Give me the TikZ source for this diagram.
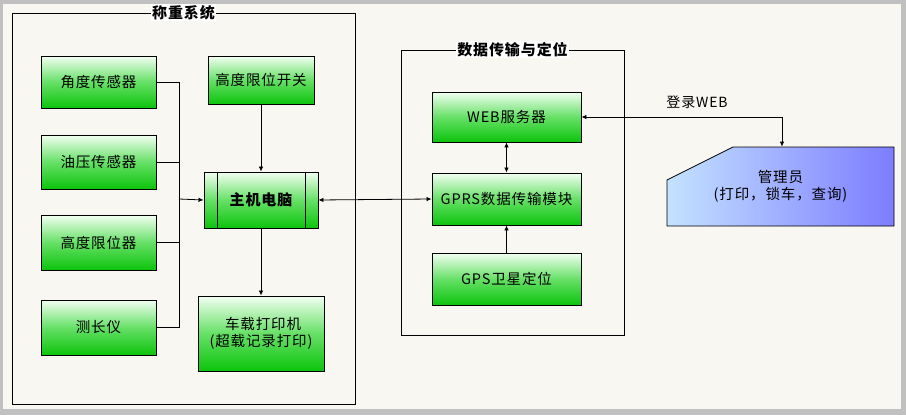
\documentclass[tikz,border=0pt]{standalone}
\usepackage{fontspec}
\setmainfont{Noto Sans CJK SC}[LetterSpace=6]
\usetikzlibrary{arrows.meta,calc}
\definecolor{paper}{HTML}{F9F7F1}
\definecolor{rim}{HTML}{C0C0C0}
\definecolor{gtop}{HTML}{F2FFF2}
\definecolor{gmid}{HTML}{66E066}
\definecolor{gbot}{HTML}{0DC40D}
\definecolor{btop}{HTML}{C4E2FF}
\definecolor{bbot}{HTML}{7C7CFF}
\begin{document}
\begin{tikzpicture}[x=1pt,y=-1pt, thick,
  box/.style={draw, line width=0.9pt, top color=gtop, bottom color=gbot, middle color=gmid,
    align=center, inner sep=0pt, font=\fontsize{14.5}{17}\selectfont},
  frame/.style={draw, line width=0.8pt, inner sep=0pt},
  title/.style={fill=white, inner sep=1pt, font=\fontsize{15}{18}\bfseries\selectfont},
  >={Latex[length=5pt,width=4.5pt]}]
\useasboundingbox (0,0) rectangle (906,415);
\fill[rim] (0,0) rectangle (906,415);
\fill[paper] (3,4) rectangle (901,409);
% frames
\node[frame, minimum width=343, minimum height=391] (czxt) at (183.5,208.5) {};
\node[title] at (czxt.north) {称重系统};
\node[frame, minimum width=223, minimum height=285] (sjcs) at (512.5,192.5) {};
\node[title] at (sjcs.north) {数据传输与定位};
% weighing system
\node[box, minimum width=115, minimum height=52] (jd) at (98.5,82) {角度传感器};
\node[box, minimum width=115, minimum height=54] (yy) at (98.5,162) {油压传感器};
\node[box, minimum width=115, minimum height=55] (gd) at (98.5,242.5) {高度限位器};
\node[box, minimum width=115, minimum height=55] (cc) at (98.5,327.5) {测长仪};
\node[box, minimum width=106, minimum height=48] (kg) at (261,80) {高度限位开关};
\node[box, minimum width=114, minimum height=56, font=\fontsize{15}{18}\bfseries\selectfont] (zj) at (261,200) {主机电脑};
\draw[line width=0.8pt] ([xshift=14]zj.north west) -- ([xshift=14]zj.south west);
\draw[line width=0.8pt] ([xshift=-13]zj.north east) -- ([xshift=-13]zj.south east);
\node[box, minimum width=126, minimum height=75] (dy) at (261,333.5) {\ 车载打印机\\(超载记录打印)};
% data transfer and positioning
\node[box, minimum width=149, minimum height=50] (web) at (506.5,117) {WEB服务器};
\node[box, minimum width=149, minimum height=52] (gprs) at (506.5,199) {GPRS数据传输模块};
\node[box, minimum width=149, minimum height=52] (gps) at (506.5,279) {GPS卫星定位};
% administrator
\shade[draw, line width=0.8pt, left color=btop, right color=bbot]
  (667,226) -- (667,180) -- (733,147) -- (894,147) -- (894,226) -- cycle;
\node[align=center, inner sep=0pt, minimum width=227, minimum height=79,
  font=\fontsize{14.5}{17}\selectfont] (gly) at (780.5,186.5) {管理员\\(打印，锁车，查询)};
\node[font=\fontsize{14}{17}\selectfont] (dl) at (697,102) {登录WEB};
% connectors
\coordinate (bus) at (179,199);
\draw (jd.east) -| (bus);
\draw (yy.east) -| (bus);
\draw (gd.east) -| (bus);
\draw (cc.east) -| (bus);
\draw[->] (bus) -- (zj.west);
\draw[->] (kg.south) -- (zj.north);
\draw[->] (zj.south) -- (dy.north);
\draw[<->] (zj.east) -- (gprs.west);
\draw[<->] (web.south) -- (gprs.north);
\draw[->] (gps.north) -- (gprs.south);
\draw[<->] (web.east) -| ([xshift=1.5]gly.north);
\end{tikzpicture}
\end{document}
